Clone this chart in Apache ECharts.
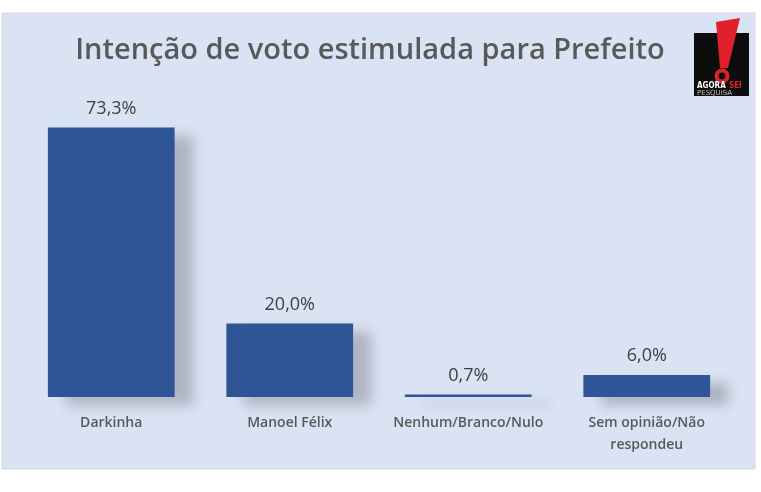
<!DOCTYPE html>
<html><head><meta charset="utf-8">
<script src="https://cdn.jsdelivr.net/npm/echarts@6/dist/echarts.min.js"></script>
<style>html,body{margin:0;padding:0;background:#fff}#c{width:761px;height:492px}</style>
</head><body><div id="c"></div>
<script>
const titleText = 'Intenção de voto estimulada para Prefeito';
const categories = ['Darkinha', 'Manoel Félix', 'Nenhum/Branco/Nulo', 'Sem opinião/Não\nrespondeu'];
const values = [73.3, 20.0, 0.7, 6.0];
const valueLabels = ['73,3%', '20,0%', '0,7%', '6,0%'];
const FONT = '"Open Sans", sans-serif';

const chart = echarts.init(document.getElementById('c'), null, {renderer: 'canvas'});
chart.setOption({
  backgroundColor: '#ffffff',
  animation: false,
  title: {
    text: titleText, left: 365, top: 31, textAlign: 'center',
    textStyle: {fontFamily: FONT, fontSize: 29, fontWeight: 600, color: '#595959'}
  },
  grid: {left: 22, right: 25, top: 103, bottom: 95, containLabel: false},
  xAxis: {
    type: 'category', data: categories,
    axisLine: {show: false}, axisTick: {show: false},
    axisLabel: {fontFamily: FONT, fontSize: 14, fontWeight: 600, color: '#595959', margin: 15, lineHeight: 22, interval: 0}
  },
  yAxis: {type: 'value', min: 0, max: 80, show: false, splitLine: {show: false}},
  graphic: [
    {type: 'rect', z: -10, shape: {x: 2, y: 13, width: 753, height: 456},
     style: {fill: '#dae3f3', stroke: '#d4d6da', lineWidth: 1}},
    {type: 'group', z: 10, children: [
      {type: 'rect', shape: {x: 694, y: 33, width: 55, height: 63}, style: {fill: '#0d0d0d'}},
      {type: 'polygon', shape: {points: [[716, 22], [740, 18], [728, 68], [720, 68]]}, style: {fill: '#e0202a'}},
      {type: 'circle', shape: {cx: 722, cy: 76, r: 7.5}, style: {fill: '#e0202a'}},
      {type: 'circle', shape: {cx: 722, cy: 76, r: 3.5}, style: {fill: '#0d0d0d'}},
      {type: 'text', style: {x: 697, y: 82, text: 'AGORA', fill: '#ffffff', font: 'bold 8px "DejaVu Sans Condensed", sans-serif'}},
      {type: 'text', style: {x: 729, y: 82, text: 'SEI', fill: '#e0202a', font: 'bold 8px "DejaVu Sans Condensed", sans-serif'}},
      {type: 'text', style: {x: 697, y: 90, text: 'PESQUISA', fill: '#bfbfbf', font: '7px "DejaVu Sans", sans-serif'}}
    ]}
  ],
  series: [{
    type: 'bar', data: values, barCategoryGap: '29%',
    itemStyle: {color: '#2f5597', shadowColor: 'rgba(70,70,80,0.3)', shadowBlur: 12, shadowOffsetX: 18, shadowOffsetY: 8},
    label: {
      show: true, position: 'top', distance: 10,
      formatter: p => valueLabels[p.dataIndex],
      fontFamily: FONT, fontSize: 18, color: '#404040'
    }
  }]
});
</script></body></html>
